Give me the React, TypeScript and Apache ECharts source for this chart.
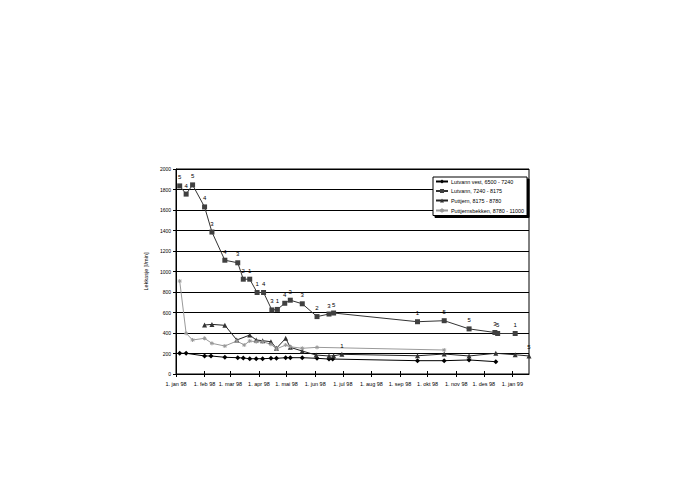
import React, { useEffect, useRef } from "react";
import * as echarts from "echarts";

// ---- data ----
const seriesNames = [
  "Lutvann vest, 6500 - 7240",
  "Lutvann, 7240 - 8175",
  "Puttjern, 8175 - 8780",
  "Puttjernsbekken, 8780 - 11000",
];

const xTickDates = [
  "1998-01-01", "1998-02-01", "1998-03-01", "1998-04-01", "1998-05-01", "1998-06-01", "1998-07-01",
  "1998-08-01", "1998-09-01", "1998-10-01", "1998-11-01", "1998-12-01", "1999-01-01",
];
const xTickLabels = [
  "1. jan 98", "1. feb 98", "1. mar 98", "1. apr 98", "1. mai 98", "1. jun 98", "1. jul 98",
  "1. aug 98", "1. sep 98", "1. okt 98", "1. nov 98", "1. des 98", "1. jan 99",
];
const xMaxDate = "1999-01-19";
const yTicks = [0, 200, 400, 600, 800, 1000, 1200, 1400, 1600, 1800, 2000];

const dates1 = [
  "1998-01-05", "1998-01-12", "1998-02-01", "1998-02-08", "1998-02-23", "1998-03-09", "1998-03-15",
  "1998-03-22", "1998-03-29", "1998-04-05", "1998-04-14", "1998-04-20", "1998-04-30", "1998-05-05",
  "1998-05-18", "1998-06-03", "1998-06-16", "1998-06-20", "1998-09-20", "1998-10-19", "1998-11-15",
  "1998-12-14",
];
const values1 = [202, 202, 176, 176, 163, 159, 156, 149, 149, 149, 153, 153, 159, 159, 159, 153, 146, 146, 130, 130, 137, 120];

const dates2 = [
  "1998-01-05", "1998-01-12", "1998-01-19", "1998-02-01", "1998-02-09", "1998-02-23", "1998-03-09",
  "1998-03-15", "1998-03-22", "1998-03-30", "1998-04-06", "1998-04-15", "1998-04-21", "1998-04-29",
  "1998-05-05", "1998-05-18", "1998-06-03", "1998-06-16", "1998-06-21", "1998-09-20", "1998-10-19",
  "1998-11-15", "1998-12-13", "1998-12-16", "1999-01-04",
];
const values2 = [1835, 1755, 1845, 1630, 1385, 1110, 1085, 925, 925, 795, 795, 625, 630, 690, 720, 685, 560, 585, 595, 510, 520, 440, 405, 395, 395];
const labels2 = ["5", "4", "5", "4", "3", "4", "3", "2", "1", "1", "4", "3", "1", "4", "3", "3", "2", "3", "5", "1", "5", "5", "3", "5", "1"];

const dates3 = [
  "1998-02-01", "1998-02-09", "1998-02-23", "1998-03-08", "1998-03-22", "1998-03-29", "1998-04-05",
  "1998-04-14", "1998-04-20", "1998-04-30", "1998-05-05", "1998-05-18", "1998-06-02", "1998-06-16",
  "1998-06-21", "1998-06-30", "1998-09-20", "1998-10-19", "1998-11-15", "1998-12-14", "1999-01-04",
  "1999-01-19",
];
const values3 = [478, 484, 475, 332, 380, 332, 325, 315, 251, 348, 260, 224, 185, 176, 178, 192, 178, 195, 176, 202, 188, 176];
const labels3 = ["", "", "", "", "", "", "", "", "", "", "", "", "", "", "", "1", "", "", "", "", "", "5"];

const dates4 = [
  "1998-01-05", "1998-01-12", "1998-01-19", "1998-02-01", "1998-02-09", "1998-02-23", "1998-03-08",
  "1998-03-16", "1998-03-22", "1998-03-29", "1998-04-05", "1998-04-14", "1998-04-20", "1998-04-30",
  "1998-05-05", "1998-05-18", "1998-06-03", "1998-10-19",
];
const values4 = [907, 397, 332, 348, 299, 273, 322, 283, 322, 315, 315, 290, 244, 283, 266, 251, 260, 234];

// ---- helpers ----
const DAY = 86400000;
const toDay = (s: string) => {
  const [y, m, d] = s.split("-").map(Number);
  return (Date.UTC(y, m - 1, d) - Date.UTC(1998, 0, 1)) / DAY;
};
const tickDays = xTickDates.map(toDay);
const xMax = toDay(xMaxDate);
const pairs = (ds: string[], vs: number[]) => ds.map((d, i) => [toDay(d), vs[i]]);

const FONT = "Liberation Sans, Arial, sans-serif";
const asterisk = "path://M0,5L10,5M5,0L5,10M1.5,1.5L8.5,8.5M8.5,1.5L1.5,8.5";

export default function App() {
  const ref = useRef<HTMLDivElement>(null);
  useEffect(() => {
    if (!ref.current) return;
    const chart = echarts.init(ref.current, null, { renderer: "svg" });
    chart.setOption({
      animation: false,
      backgroundColor: "#fff",
      textStyle: { fontFamily: FONT },
      grid: {
        left: 176, top: 169, right: 155, bottom: 123,
        show: true, borderColor: "#000", borderWidth: 1, backgroundColor: "transparent",
      },
      legend: {
        orient: "vertical",
        left: 433, top: 177,
        itemWidth: 12, itemHeight: 5, itemGap: 4.5,
        padding: [2, 3, 2, 2],
        backgroundColor: "#fff",
        borderColor: "#000", borderWidth: 1,
        shadowColor: "#000", shadowOffsetX: 2, shadowOffsetY: 2, shadowBlur: 0,
        textStyle: { fontFamily: FONT, fontSize: 5.4, color: "#000", padding: [0, 0, 0, -2] },
        data: seriesNames,
      },
      xAxis: [
        {
          type: "value", min: 0, max: xMax,
          axisLine: { show: true, lineStyle: { color: "#000", width: 1 } },
          axisTick: { show: true, length: 3, lineStyle: { color: "#000" }, customValues: tickDays },
          axisLabel: {
            customValues: tickDays, margin: 7, fontSize: 5.5, fontFamily: FONT, color: "#000",
            formatter: (v: number) => {
              const i = tickDays.indexOf(v);
              return i >= 0 ? xTickLabels[i] : "";
            },
          },
          splitLine: { show: false },
        },
        {
          type: "value", min: 0, max: xMax, position: "bottom",
          axisLine: { show: false },
          axisTick: { show: true, inside: true, length: 3, lineStyle: { color: "#000" }, customValues: tickDays },
          axisLabel: { show: false },
          splitLine: { show: false },
        },
      ],
      yAxis: {
        type: "value", min: 0, max: 2000, interval: 200,
        name: "Lekkasje [l/min]", nameLocation: "middle", nameGap: 22, nameRotate: 90,
        nameTextStyle: { fontFamily: FONT, fontSize: 5.5, color: "#000" },
        axisLine: { show: true, lineStyle: { color: "#000", width: 1 } },
        axisTick: { show: true, length: 3, lineStyle: { color: "#000" } },
        axisLabel: {
          margin: 5, fontSize: 5, fontFamily: FONT, color: "#000",
          formatter: (v: number) => (yTicks.includes(v) ? String(v) : ""),
        },
        splitLine: { show: true, lineStyle: { color: "#000", width: 1 } },
      },
      series: [
        {
          name: seriesNames[0], type: "line", data: pairs(dates1, values1),
          symbol: "diamond", symbolSize: 5,
          lineStyle: { color: "#000", width: 1 }, itemStyle: { color: "#000" },
        },
        {
          name: seriesNames[1], type: "line", data: pairs(dates2, values2),
          symbol: "rect", symbolSize: 5,
          lineStyle: { color: "#333", width: 1 }, itemStyle: { color: "#404040" },
          label: {
            show: true, position: "top", distance: 3,
            fontFamily: FONT, fontSize: 6, color: "#000", textBorderWidth: 0,
            formatter: (p: any) => labels2[p.dataIndex],
          },
        },
        {
          name: seriesNames[2], type: "line", data: pairs(dates3, values3),
          symbol: "triangle", symbolSize: 5,
          lineStyle: { color: "#222", width: 1 }, itemStyle: { color: "#333" },
          label: {
            show: true, position: "top", distance: 3,
            fontFamily: FONT, fontSize: 6, color: "#000", textBorderWidth: 0,
            formatter: (p: any) => labels3[p.dataIndex],
          },
        },
        {
          name: seriesNames[3], type: "line", data: pairs(dates4, values4),
          symbol: asterisk, symbolSize: 4,
          lineStyle: { color: "#999", width: 1 },
          itemStyle: { color: "#999", borderColor: "#999", borderWidth: 1 },
        },
      ],
    });
    return () => chart.dispose();
  }, []);
  return (
    <div
      ref={ref}
      style={{ position: "fixed", left: 0, top: 0, width: 684, height: 497, background: "#fff" }}
    />
  );
}
